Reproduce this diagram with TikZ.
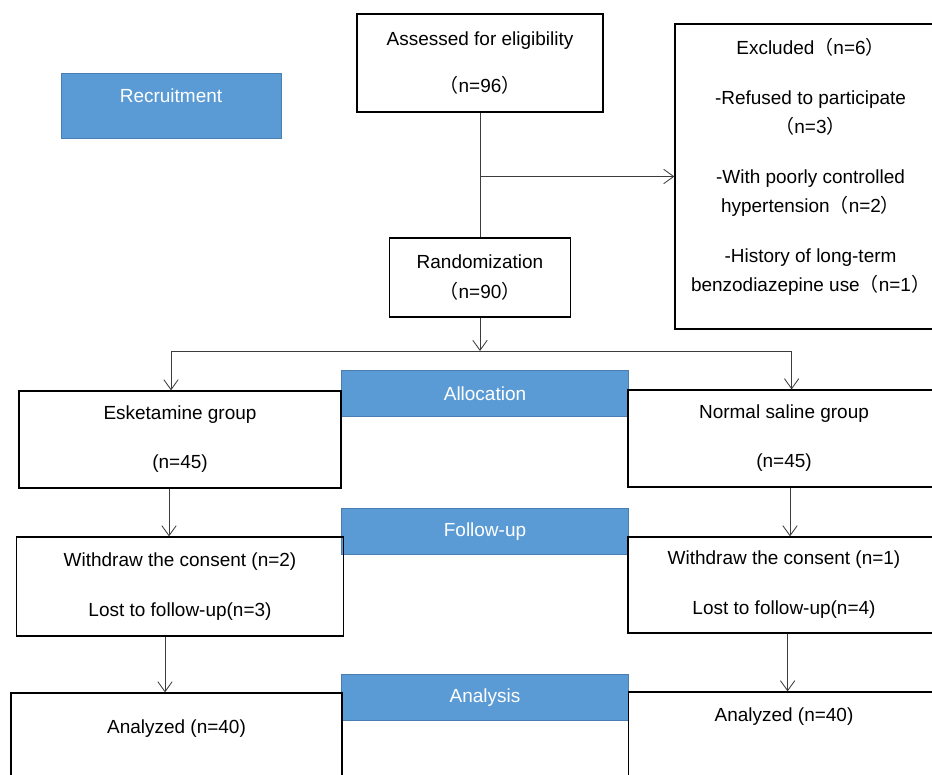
\documentclass[tikz,border=0pt]{standalone}
\usepackage{fontspec}
\setmainfont{Liberation Sans}
\newfontfamily\cjk{Noto Sans CJK SC}
\usetikzlibrary{positioning,arrows.meta}
\definecolor{headblue}{RGB}{91,155,213}
\definecolor{headedge}{RGB}{74,126,176}
\definecolor{linegray}{RGB}{60,60,60}
\newcommand{\fwlp}{{\cjk （}}
\newcommand{\fwrp}{{\cjk ）}}

\begin{document}
\begin{tikzpicture}[
font=\fontsize{13.5pt}{21pt}\selectfont,
box/.style={rectangle, draw=black, line width=0.9pt, inner sep=0pt},
head/.style={rectangle, draw=headedge, fill=headblue, text=white, line width=0.6pt, minimum width=7.175cm, minimum height=1.15cm, inner sep=0pt},
link/.style={draw=linegray, line width=0.6pt},
>={Straight Barb[length=2.5mm,width=3.6mm]},
]
    % Cadre de la page
    \useasboundingbox (0,0) rectangle (23.3,-19.375);
    \clip (0,0) rectangle (23.3,-19.375);

    % Blocs du haut
    \node [head, minimum width=5.5cm, minimum height=1.625cm, text height=0.35cm, text depth=0.52cm] (recruit) at (4.275,-2.6375) {Recruitment};
    \node [box, align=center, minimum width=6.15cm, minimum height=2.45cm] (assessed) at (12,-1.575) {Assessed for eligibility\\[0.46cm]\fwlp n=96\fwrp};
    \node [box, align=center, below of=assessed, node distance=5.3625cm, minimum width=4.525cm, minimum height=1.975cm] (random) {Randomization\\\fwlp n=90\fwrp};
    \node [box, align=center, minimum width=6.775cm, minimum height=7.625cm] (excluded) at (20.2625,-4.4125) {Excluded\fwlp n=6\fwrp\\[0.5cm]-Refused to participate\\\fwlp n=3\fwrp\\[0.5cm]-With poorly controlled\\hypertension\fwlp n=2\fwrp\\[0.5cm]-History of long-term\\benzodiazepine use\fwlp n=1\fwrp\\[-0.175cm]\mbox{}};

    % Bandeaux bleus
    \node [head] (alloc) at (12.125,-9.8375) {Allocation};
    \node [head, below of=alloc, node distance=3.45cm] (followup) {Follow-up};
    \node [head, below of=followup, node distance=4.15cm] (analysis) {Analysis};

    % Groupe esketamine
    \node [box, align=center, minimum width=8.05cm, minimum height=2.425cm] (esk) at (4.5,-10.9875) {Esketamine group\\[0.49cm](n=45)};
    \node [box, align=center, below of=esk, node distance=3.675cm, minimum width=8.175cm, minimum height=2.475cm] (wdl) {Withdraw the consent (n=2)\\[0.51cm]Lost to follow-up(n=3)};
    \node [box, minimum width=8.275cm, minimum height=2.675cm, text height=0.35cm, text depth=1.01cm] (anl) at (4.4125,-18.6625) {Analyzed (n=40)};

    % Groupe serum physiologique
    \node [box, align=center, minimum width=7.8cm, minimum height=2.425cm] (nsg) at (19.6,-10.9625) {Normal saline group\\[0.49cm](n=45)};
    \node [box, align=center, below of=nsg, node distance=3.6625cm, minimum width=7.8cm, minimum height=2.4cm] (wdr) {Withdraw the consent (n=1)\\[0.51cm]Lost to follow-up(n=4)};
    \node [box, below of=wdr, node distance=4.025cm, minimum width=7.775cm, minimum height=2.7cm, text height=0.35cm, text depth=1.59cm] (anr) {Analyzed (n=40)};

    % Liens
    \coordinate (dropl) at (4.275,-8.775);
    \coordinate (dropr) at (19.79,-8.775);
    \draw [link] (assessed.south) -- (assessed.south |- random.north);
    \draw [link, ->] (assessed.south |- excluded.west) -- (excluded.west);
    \draw [link, ->] (random.south) -- (random.south |- dropl);
    \draw [link] (dropl) -- (dropr);
    \draw [link, ->] (dropl) -- (dropl |- esk.north);
    \draw [link, ->] (dropr) -- (dropr |- nsg.north);
    \draw [link, ->] ([xshift=-0.275cm]esk.south) -- ([xshift=-0.275cm]esk.south |- wdl.north);
    \draw [link, ->] ([xshift=-0.375cm]wdl.south) -- ([xshift=-0.375cm]wdl.south |- anl.north);
    \draw [link, ->] ([xshift=0.15cm]nsg.south) -- ([xshift=0.15cm]nsg.south |- wdr.north);
    \draw [link, ->] ([xshift=0.09cm]wdr.south) -- ([xshift=0.09cm]wdr.south |- anr.north);
\end{tikzpicture}
\end{document}
